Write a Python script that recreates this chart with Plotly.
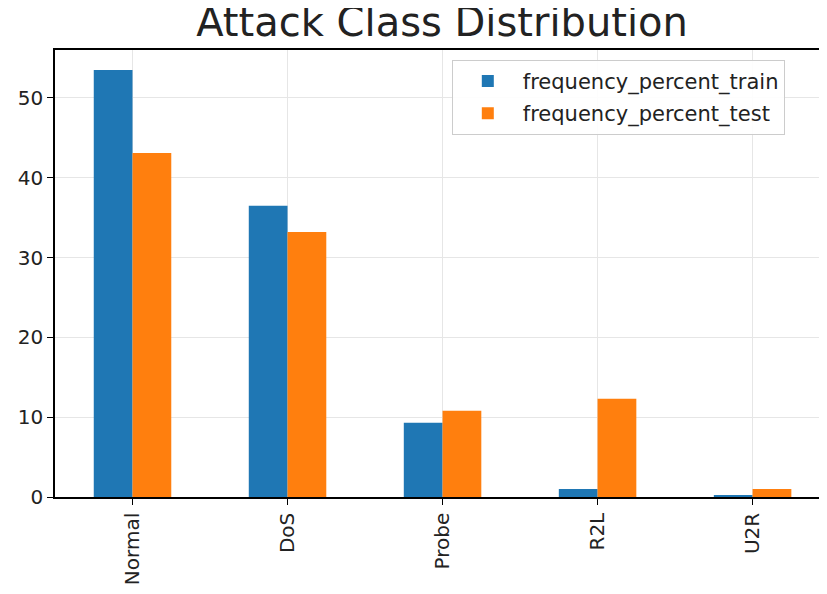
import plotly.graph_objects as go

categories = ["Normal", "DoS", "Probe", "R2L", "U2R"]
train_pct = [53.5, 36.5, 9.3, 1.0, 0.2]
test_pct = [43.1, 33.2, 10.8, 12.3, 1.0]

fig = go.Figure()
fig.add_trace(go.Bar(x=categories, y=train_pct, name="frequency_percent_train",
                     legendgroup="a",
                     marker=dict(color="#1f77b4", line=dict(width=0))))
fig.add_trace(go.Bar(x=categories, y=test_pct, name="frequency_percent_test",
                     legendgroup="b",
                     marker=dict(color="#ff7f0e", line=dict(width=0))))

font_family = "DejaVu Sans"
fig.update_layout(
    width=819, height=586,
    margin=dict(l=47, r=0, t=42, b=97),
    paper_bgcolor="white", plot_bgcolor="white",
    barmode="group", bargap=0.5, bargroupgap=0,
    font=dict(family=font_family, color="#222222"),
    title=dict(text="Attack Class Distribution", x=0.53, xanchor="center",
               y=1.0, yanchor="top", pad=dict(t=0, b=0),
               font=dict(size=40, family=font_family, color="#222222")),
    legend=dict(x=0.514, y=0.978, xanchor="left", yanchor="top",
                bgcolor="rgba(255,255,255,0.9)", bordercolor="#cccccc", borderwidth=1,
                font=dict(size=21, family=font_family), itemwidth=60,
                traceorder="grouped", tracegroupgap=2),
    showlegend=True,
)
fig.update_xaxes(
    type="category", range=[-0.5, 4.48],
    showline=True, linecolor="black", linewidth=1.5, mirror=True,
    showgrid=True, gridcolor="#e6e6e6", gridwidth=1,
    ticks="outside", ticklen=6, tickcolor="black",
    tickangle=-90, tickfont=dict(size=20, family=font_family, color="#222222"),
)
fig.update_yaxes(
    range=[0, 56],
    showline=True, linecolor="black", linewidth=1.5,
    showgrid=True, gridcolor="#e6e6e6", gridwidth=1,
    zeroline=False,
    ticks="outside", ticklen=6, tickcolor="black",
    tickvals=[0, 10, 20, 30, 40, 50],
    tickfont=dict(size=20, family=font_family, color="#222222"),
)

fig.write_html("out.html")
